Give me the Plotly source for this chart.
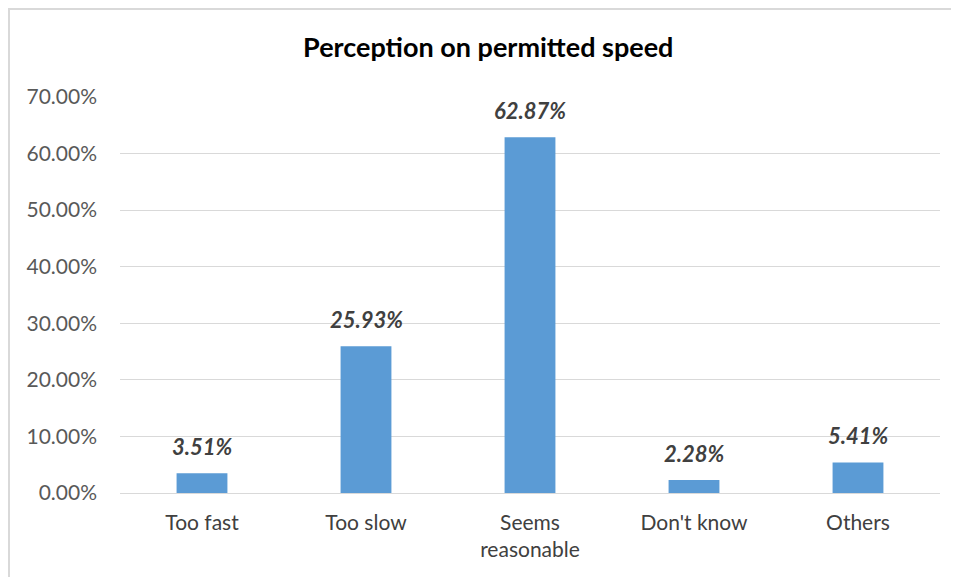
import plotly.graph_objects as go

# data
categories = ["Too fast", "Too slow", "Seems<br>reasonable", "Don't know", "Others"]
values = [3.51, 25.93, 62.87, 2.28, 5.41]
labels = ["3.51%", "25.93%", "62.87%", "2.28%", "5.41%"]
tick_vals = [0, 10, 20, 30, 40, 50, 60, 70]
tick_text = ["0.00%", "10.00%", "20.00%", "30.00%", "40.00%", "50.00%", "60.00%", "70.00%"]

FONT = "Lato, 'Open Sans', sans-serif"

W, H = 951, 569
L, R, T, B = 112, 19, 89, 84
pw, ph = W - L - R, H - T - B

fig = go.Figure()
fig.add_trace(go.Bar(
    x=categories,
    y=values,
    marker_color="#5b9bd5",
    marker_line_width=0,
    hovertemplate="%{x}: %{y:.2f}%<extra></extra>",
))

for c, v, t in zip(categories, values, labels):
    fig.add_annotation(
        x=c, y=v, text=f"<b><i>{t}</i></b>",
        showarrow=False, yanchor="bottom", yshift=11,
        font=dict(size=22, color="#404040", family=FONT),
    )

# chart border (left + top edges, the rest falls outside the window)
x_left = (1 - L) / pw
y_top = 1 + (T - 1) / ph
fig.add_shape(type="path", xref="paper", yref="paper",
              path=f"M {x_left} -0.3 L {x_left} {y_top} L 1.1 {y_top}",
              line=dict(color="#d9d9d9", width=2))

fig.update_layout(
    width=W, height=H,
    margin=dict(l=L, r=R, t=T, b=B),
    plot_bgcolor="white",
    paper_bgcolor="white",
    showlegend=False,
    bargap=0.69,
    font=dict(family=FONT, color="#595959", size=21),
    title=dict(
        text="<b>Perception on permitted speed</b>",
        x=0.505, xanchor="center", y=1 - 40 / H, yanchor="middle",
        font=dict(size=27, color="#000000", family=FONT),
    ),
)
fig.update_xaxes(
    showgrid=False, showline=False, ticks="",
    ticklabelstandoff=15,
    tickfont=dict(size=21, color="#404040"),
)
fig.update_yaxes(
    range=[0, 70], tickvals=tick_vals, ticktext=tick_text,
    showgrid=True, gridcolor="#d9d9d9", gridwidth=1,
    zeroline=True, zerolinecolor="#d9d9d9", zerolinewidth=1,
    showline=False, ticks="", ticklabelstandoff=22,
    tickfont=dict(size=21, color="#595959"),
)

fig.write_html("out.html")
